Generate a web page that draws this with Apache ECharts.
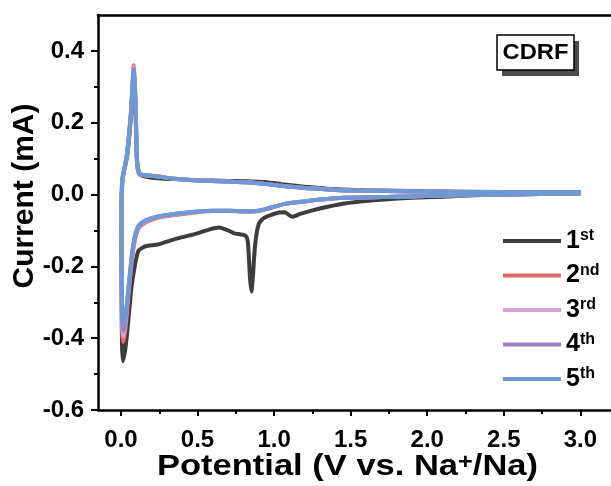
<!DOCTYPE html>
<html>
<head>
<meta charset="utf-8">
<script src="https://cdn.jsdelivr.net/npm/echarts@6/dist/echarts.min.js"></script>
<style>html,body{margin:0;padding:0;background:#fff}#c{width:611px;height:486px}</style>
</head>
<body>
<div id="c"></div>
<script>
// ---- tick values ----
const xTicks = [0, 0.5, 1.0, 1.5, 2.0, 2.5, 3.0];
const xMinorTicks = [0.25, 0.75, 1.25, 1.75, 2.25, 2.75];
const yTicks = [-0.6, -0.4, -0.2, 0.0, 0.2, 0.4];
const yMinorTicks = [-0.5, -0.3, -0.1, 0.1, 0.3];

// ---- series names / colours ----
const cycleNames = ['1st', '2nd', '3rd', '4th', '5th'];
const cycleColors = ['#3d3d3d', '#e06a6a', '#d99fd0', '#9d80c0', '#6e98d6'];

// ---- data: [potential (V), current (mA)] ----
const cycle1 = [
  [3.0,0.004],[2.6,0.001],[2.3,-0.002],[2.1,-0.006],[1.9,-0.009],[1.78,-0.012],[1.6,-0.018],[1.46,-0.025],
  [1.35,-0.034],[1.25,-0.044],[1.17,-0.054],[1.12,-0.062],[1.1,-0.058],[1.07,-0.049],[1.03,-0.05],[1.0,-0.054],
  [0.95,-0.062],[0.92,-0.07],[0.9,-0.082],[0.885,-0.11],[0.872,-0.16],[0.862,-0.225],[0.852,-0.27],[0.843,-0.235],
  [0.836,-0.18],[0.828,-0.13],[0.815,-0.115],[0.78,-0.111],[0.74,-0.108],[0.70,-0.1],[0.64,-0.092],[0.58,-0.097],
  [0.5,-0.108],[0.37,-0.122],[0.24,-0.139],[0.16,-0.144],[0.115,-0.156],[0.096,-0.186],[0.07,-0.253],[0.051,-0.336],
  [0.032,-0.419],[0.013,-0.464],
  [0.007,-0.42],[0.004,-0.3],[0.003,-0.15],[0.004,0.0],[0.008,0.04],[0.018,0.065],[0.04,0.105],[0.064,0.21],
  [0.078,0.31],[0.084,0.335],[0.09,0.29],[0.097,0.2],[0.102,0.11],[0.11,0.07],[0.125,0.055],[0.2,0.047],
  [0.35,0.043],[0.5,0.04],[0.7,0.038],[0.82,0.037],[0.95,0.034],[1.05,0.029],[1.2,0.022],[1.4,0.015],
  [1.6,0.012],[2.0,0.009],[2.5,0.007],[3.0,0.007]
];
const cycle2 = [
  [3.0,0.003],[2.5,0.0],[2.1,-0.003],[1.78,-0.006],[1.46,-0.009],[1.3,-0.014],[1.2,-0.019],[1.07,-0.026],
  [0.98,-0.037],[0.9,-0.046],[0.82,-0.048],[0.71,-0.046],[0.6,-0.046],[0.5,-0.049],[0.37,-0.056],[0.24,-0.065],
  [0.16,-0.078],[0.115,-0.094],[0.095,-0.12],[0.08,-0.155],[0.07,-0.19],[0.051,-0.27],[0.035,-0.35],[0.022,-0.395],
  [0.013,-0.41],
  [0.008,-0.37],[0.005,-0.2],[0.004,-0.05],[0.008,0.03],[0.015,0.055],[0.02,0.066],[0.038,0.108],[0.064,0.222],
  [0.078,0.33],[0.083,0.36],[0.09,0.31],[0.096,0.25],[0.1,0.16],[0.103,0.11],[0.11,0.075],[0.12,0.06],
  [0.135,0.055],[0.24,0.05],[0.35,0.044],[0.5,0.039],[0.7,0.036],[0.82,0.034],[0.93,0.03],[1.03,0.025],
  [1.15,0.02],[1.25,0.017],[1.4,0.013],[1.56,0.011],[2.1,0.008],[2.5,0.007],[3.0,0.007]
];
const cycle3 = [
  [3.0,0.003],[2.5,0.0],[2.1,-0.003],[1.78,-0.006],[1.46,-0.009],[1.3,-0.014],[1.2,-0.019],[1.07,-0.026],
  [0.98,-0.036],[0.9,-0.045],[0.82,-0.047],[0.71,-0.045],[0.6,-0.045],[0.5,-0.048],[0.37,-0.054],[0.24,-0.063],
  [0.16,-0.075],[0.115,-0.09],[0.095,-0.114],[0.08,-0.148],[0.07,-0.18],[0.051,-0.26],[0.035,-0.335],[0.022,-0.38],
  [0.013,-0.395],
  [0.008,-0.36],[0.005,-0.2],[0.004,-0.05],[0.008,0.03],[0.015,0.055],[0.02,0.066],[0.038,0.108],[0.064,0.222],
  [0.078,0.325],[0.083,0.355],[0.09,0.305],[0.096,0.25],[0.1,0.16],[0.103,0.11],[0.11,0.075],[0.12,0.06],
  [0.135,0.055],[0.24,0.05],[0.35,0.044],[0.5,0.039],[0.7,0.036],[0.82,0.034],[0.93,0.03],[1.03,0.025],
  [1.15,0.02],[1.25,0.017],[1.4,0.013],[1.56,0.011],[2.1,0.008],[2.5,0.007],[3.0,0.007]
];
const cycle4 = [
  [3.0,0.003],[2.5,0.0],[2.1,-0.003],[1.78,-0.006],[1.46,-0.009],[1.3,-0.014],[1.2,-0.019],[1.07,-0.026],
  [0.98,-0.036],[0.9,-0.045],[0.82,-0.047],[0.71,-0.045],[0.6,-0.045],[0.5,-0.047],[0.37,-0.053],[0.24,-0.062],
  [0.16,-0.073],[0.115,-0.088],[0.095,-0.11],[0.08,-0.143],[0.07,-0.175],[0.051,-0.255],[0.035,-0.325],[0.022,-0.368],
  [0.013,-0.38],
  [0.008,-0.345],[0.005,-0.2],[0.004,-0.05],[0.008,0.03],[0.015,0.055],[0.02,0.066],[0.038,0.108],[0.064,0.222],
  [0.078,0.32],[0.083,0.35],[0.09,0.3],[0.096,0.25],[0.1,0.16],[0.103,0.11],[0.11,0.075],[0.12,0.06],
  [0.135,0.055],[0.24,0.05],[0.35,0.044],[0.5,0.039],[0.7,0.036],[0.82,0.034],[0.93,0.03],[1.03,0.025],
  [1.15,0.02],[1.25,0.017],[1.4,0.013],[1.56,0.011],[2.1,0.008],[2.5,0.007],[3.0,0.007]
];
const cycle5 = [
  [3.0,0.003],[2.5,0.0],[2.1,-0.003],[1.78,-0.006],[1.46,-0.009],[1.3,-0.014],[1.2,-0.019],[1.07,-0.026],
  [0.98,-0.036],[0.9,-0.045],[0.82,-0.047],[0.71,-0.045],[0.6,-0.045],[0.5,-0.047],[0.37,-0.053],[0.24,-0.061],
  [0.16,-0.072],[0.115,-0.086],[0.095,-0.108],[0.08,-0.14],[0.07,-0.17],[0.051,-0.25],[0.035,-0.318],[0.022,-0.355],
  [0.014,-0.365],
  [0.008,-0.33],[0.005,-0.2],[0.004,-0.05],[0.008,0.03],[0.015,0.055],[0.02,0.065],[0.038,0.108],[0.064,0.22],
  [0.078,0.32],[0.083,0.347],[0.09,0.3],[0.096,0.25],[0.1,0.16],[0.103,0.11],[0.11,0.075],[0.12,0.06],
  [0.135,0.055],[0.24,0.05],[0.35,0.044],[0.5,0.039],[0.7,0.036],[0.82,0.034],[0.93,0.03],[1.03,0.025],
  [1.15,0.02],[1.25,0.017],[1.4,0.013],[1.56,0.011],[2.1,0.008],[2.5,0.007],[3.0,0.007]
];
const cycles = [cycle1, cycle2, cycle3, cycle4, cycle5];

// ---- chart ----
const FONT = '"Liberation Sans", Arial, sans-serif';
const X_MIN = -0.15, X_MAX = 3.2, Y_MIN = -0.6, Y_MAX = 0.5;
const chart = echarts.init(document.getElementById('c'), null, {renderer: 'canvas'});

const baseX = {type: 'value', min: X_MIN, max: X_MAX, gridIndex: 0, splitLine: {show: false}};
const baseY = {type: 'value', min: Y_MIN, max: Y_MAX, gridIndex: 0, splitLine: {show: false}};
const lineStyleAxis = {color: '#000', width: 2.5};

const option = {
  animation: false,
  backgroundColor: '#fff',
  grid: {left: 98, top: 15, width: 525, height: 395, containLabel: false},
  xAxis: [
    Object.assign({}, baseX, {
      position: 'bottom',
      axisLine: {show: true, lineStyle: lineStyleAxis, onZero: false},
      axisTick: {show: true, customValues: xTicks, length: 6, inside: false, lineStyle: {color: '#000', width: 2}},
      axisLabel: {show: true, customValues: xTicks, margin: 18, color: '#000', fontSize: 24, fontWeight: 'bold',
        fontFamily: FONT, formatter: v => v.toFixed(1)}
    }),
    Object.assign({}, baseX, {
      position: 'bottom',
      axisLine: {show: false, onZero: false},
      axisTick: {show: true, customValues: xMinorTicks, length: 4, lineStyle: {color: '#000', width: 2}},
      axisLabel: {show: false}
    }),
    Object.assign({}, baseX, {
      position: 'top',
      axisLine: {show: true, lineStyle: lineStyleAxis, onZero: false},
      axisTick: {show: false},
      axisLabel: {show: false}
    })
  ],
  yAxis: [
    Object.assign({}, baseY, {
      position: 'left',
      axisLine: {show: true, lineStyle: lineStyleAxis, onZero: false},
      axisTick: {show: true, customValues: yTicks, length: 7, lineStyle: {color: '#000', width: 2}},
      axisLabel: {show: true, customValues: yTicks, margin: 14, color: '#000', fontSize: 24, fontWeight: 'bold',
        fontFamily: FONT, formatter: v => v.toFixed(1)}
    }),
    Object.assign({}, baseY, {
      position: 'left',
      axisLine: {show: false, onZero: false},
      axisTick: {show: true, customValues: yMinorTicks, length: 4, lineStyle: {color: '#000', width: 2}},
      axisLabel: {show: false}
    })
  ],
  legend: {
    orient: 'vertical',
    left: 498,
    top: 223,
    icon: 'rect',
    itemWidth: 58,
    itemHeight: 4,
    itemGap: 9,
    data: cycleNames,
    formatter: name => '{n|' + name.charAt(0) + '}{s|' + name.slice(1) + '}',
    textStyle: {
      color: '#000',
      fontFamily: FONT,
      fontWeight: 'bold',
      rich: {
        n: {fontSize: 25, fontWeight: 'bold', fontFamily: FONT, color: '#000', lineHeight: 26},
        s: {fontSize: 16, fontWeight: 'bold', fontFamily: FONT, color: '#000', verticalAlign: 'top', lineHeight: 14}
      }
    }
  },
  graphic: [
    {type: 'rect', shape: {x: 502, y: 41, width: 77, height: 35}, style: {fill: '#4d4d4d'}, z: 10},
    {type: 'rect', shape: {x: 497, y: 35, width: 77, height: 35}, style: {fill: '#fff', stroke: '#000', lineWidth: 1.5}, z: 11},
    {type: 'text', x: 535.5, y: 53, z: 12, scaleX: 1.08,
      style: {text: 'CDRF', fill: '#000', font: 'bold 22px ' + FONT, textAlign: 'center', textVerticalAlign: 'middle'}},
    {type: 'text', x: 347.5, y: 467, z: 12, scaleX: 1.15,
      style: {text: 'Potential (V vs. Na{sup|+}/Na)', fill: '#000', font: 'bold 30px ' + FONT,
        textAlign: 'center', textVerticalAlign: 'middle',
        rich: {sup: {font: 'bold 22px ' + FONT, fill: '#000', verticalAlign: 'top', padding: [0, 0, 8, 0]}}}},
    {type: 'text', x: 25, y: 196, rotation: Math.PI / 2, z: 12,
      style: {text: 'Current (mA)', fill: '#000', font: 'bold 30px ' + FONT,
        textAlign: 'center', textVerticalAlign: 'middle'}}
  ],
  series: cycles.map((d, i) => ({
    name: cycleNames[i],
    type: 'line',
    xAxisIndex: 0,
    yAxisIndex: 0,
    data: d,
    showSymbol: false,
    symbol: 'none',
    smooth: 0.2,
    clip: false,
    lineStyle: {color: cycleColors[i], width: 4},
    itemStyle: {color: cycleColors[i]},
    z: 2 + i
  }))
};
chart.setOption(option);
</script>
</body>
</html>
